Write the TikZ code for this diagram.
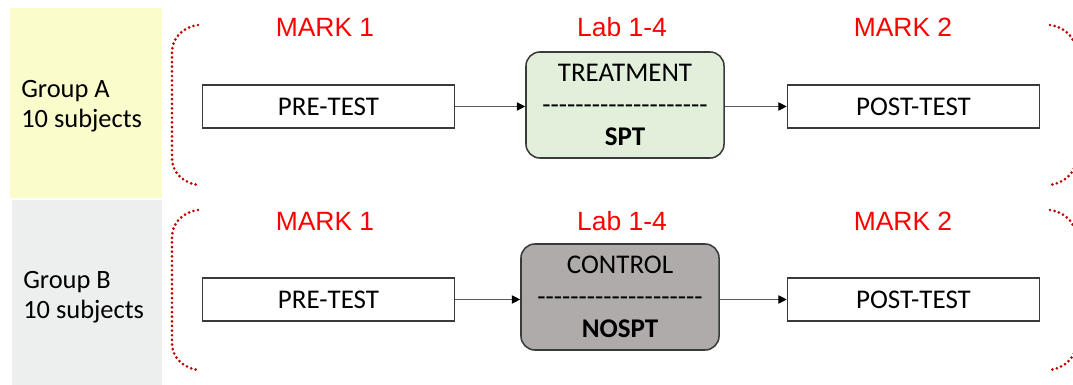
\documentclass[tikz,border=0pt]{standalone}
\usepackage{fontspec}
\setmainfont{Carlito}
\newfontfamily\headfont{Liberation Sans}
\usetikzlibrary{arrows.meta,positioning}
\definecolor{grpAcol}{HTML}{FBFCCC}
\definecolor{grpBcol}{HTML}{EDEEEE}
\definecolor{treatcol}{HTML}{E2EFDA}
\definecolor{ctrlcol}{HTML}{AFABAB}
\definecolor{brackcol}{HTML}{C00000}
\definecolor{edgecol}{HTML}{3A3A3A}
\newcommand\dashline{\foreach\i in {1,...,20}{\mbox{-}}}

\begin{document}
\begin{tikzpicture}[x=0.025cm,y=-0.025cm,>={Triangle[length=6pt,width=6pt,black]},
  testbox/.style={draw=edgecol,line width=1.1pt,minimum width=6.3cm,minimum height=1.07cm,inner sep=0pt,font=\fontsize{19.2}{22.8}\selectfont},
  armbox/.style={draw=edgecol,line width=1.1pt,rounded corners=0.35cm,minimum width=4.95cm,minimum height=2.65cm,inner sep=0pt,align=center,font=\fontsize{19.2}{22.8}\selectfont},
  marklbl/.style={anchor=base,text=red,font=\headfont\fontsize{18.8}{22}\selectfont},
  grplbl/.style={anchor=north west,inner sep=0pt,align=left,font=\fontsize{18.8}{21.3}\selectfont},
  brack/.style={brackcol,line width=2.1pt,line cap=round,dash pattern=on 0pt off 3.3pt},
  flow/.style={->,black!65,line width=0.7pt}]
  \useasboundingbox (0,0) rectangle (1073,385);
  \clip (0,0) rectangle (1073,385);
  % group panels
  \fill[grpAcol] (10,8) rectangle (162,198);
  \fill[grpBcol] (12,200) rectangle (162,385);
  \node[grplbl] (grpA) at (21,80) {Group A\\10 subjects};
  \node[grplbl] (grpB) at (23,271) {Group B\\10 subjects};
  % dotted brackets
  \foreach \dy in {0,185}{
    \draw[brack] (198,25+\dy) to[out=188,in=90] (172,52+\dy) -- (172,158+\dy) to[out=-90,in=172] (198,185+\dy);
    \draw[brack] (1050,25+\dy) to[out=-8,in=90] (1076,52+\dy) -- (1076,158+\dy) to[out=-90,in=8] (1050,185+\dy);
  }
  % headings
  \node[marklbl] (m1A) at (325,37) {MARK 1};
  \node[marklbl] (labA) at (622,37) {Lab 1-4};
  \node[marklbl] (m2A) at (903,37) {MARK 2};
  \node[marklbl] (m1B) at (325,231) {MARK 1};
  \node[marklbl] (labB) at (622,231) {Lab 1-4};
  \node[marklbl] (m2B) at (903,231) {MARK 2};
  % group A
  \node[testbox] (preA) at (328.5,106.5) {PRE-TEST};
  \node[armbox,fill=treatcol] (treatA) at (625,105) {TREATMENT\\\dashline\\\textbf{SPT}};
  \node[testbox] (postA) at (913.5,106.5) {POST-TEST};
  \draw[flow] (preA.east) -- (preA.east -| treatA.west);
  \draw[flow] (treatA.east |- postA.west) -- (postA.west);
  % group B
  \node[testbox] (preB) at (328.5,299.5) {PRE-TEST};
  \node[armbox,fill=ctrlcol] (ctrlB) at (620,297) {CONTROL\\\dashline\\\textbf{NOSPT}};
  \node[testbox] (postB) at (913.5,299.5) {POST-TEST};
  \draw[flow] (preB.east) -- (preB.east -| ctrlB.west);
  \draw[flow] (ctrlB.east |- postB.west) -- (postB.west);
\end{tikzpicture}
\end{document}
